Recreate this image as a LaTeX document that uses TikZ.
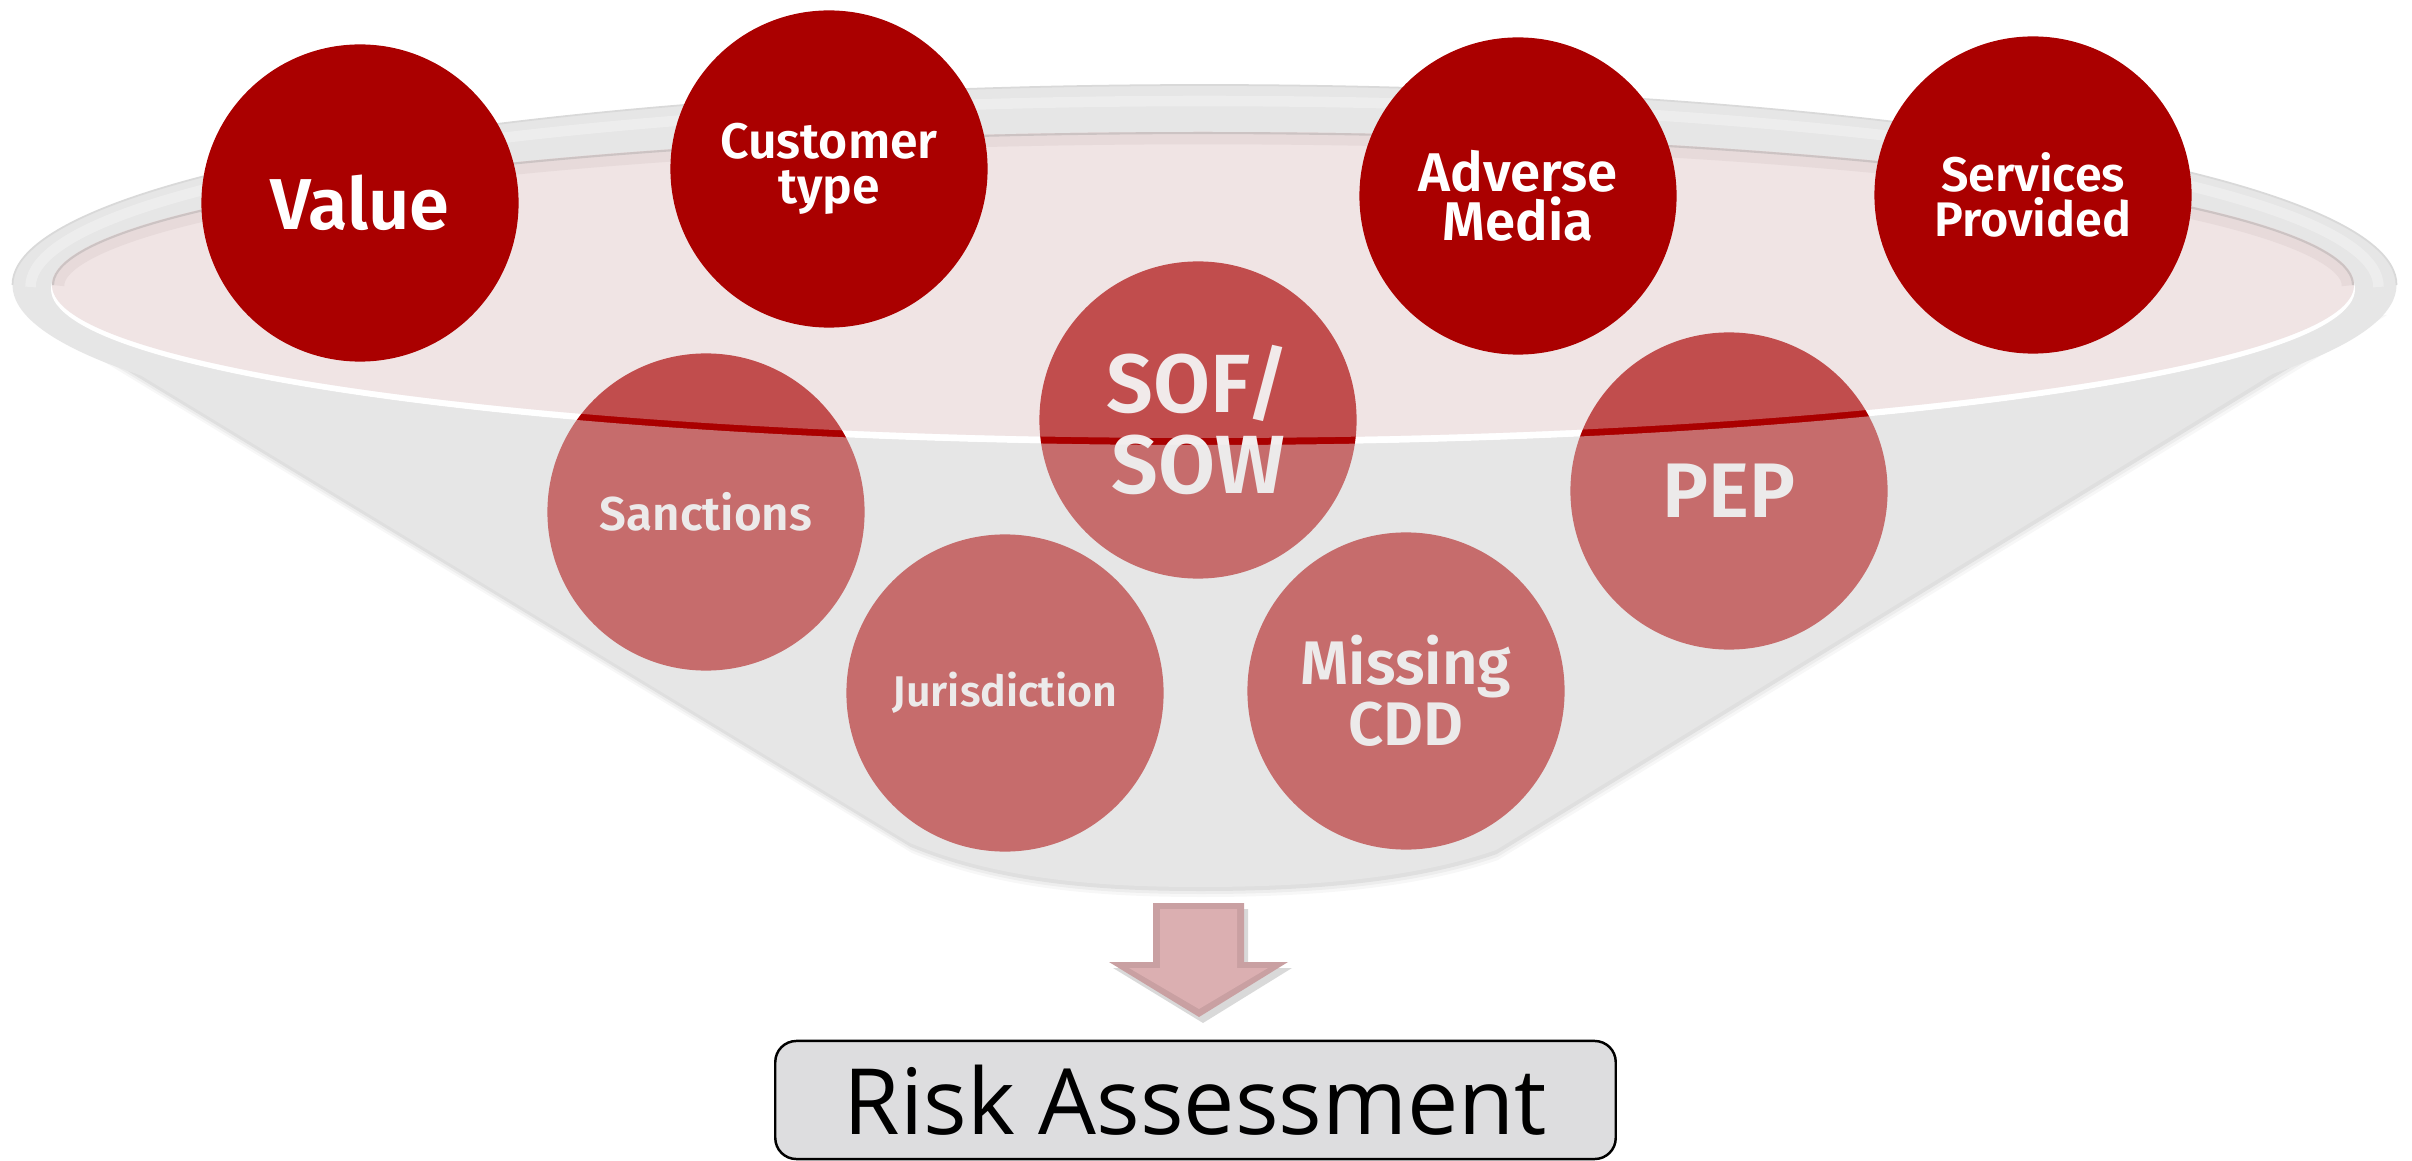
\documentclass[tikz,border=0pt]{standalone}
\usepackage{fontspec}
\setmainfont{Open Sans}
\newfontfamily\firafont[BoldFont={Fira Sans SemiBold}]{Fira Sans}
\definecolor{topred}{HTML}{AA0000}
\definecolor{pinkin}{HTML}{F0E4E4}
\definecolor{conegray}{HTML}{E6E6E6}
\definecolor{rimedge}{HTML}{D9D9D9}
\definecolor{shadowpink}{HTML}{E7DADA}
\definecolor{rimline}{HTML}{CCC3C3}
\definecolor{lowtext}{HTML}{F2EEEE}
\definecolor{arrowface}{HTML}{DBAFB1}
\definecolor{arrowedge}{HTML}{C9A0A2}
\definecolor{boxfill}{HTML}{DDDDDF}
\tikzset{
  ball/.style={circle, inner sep=0pt, minimum size=3.17cm, align=center},
  topball/.style={ball, fill=topred, text=white},
  lowball/.style={ball, fill=topred, text=lowtext},
  ft/.style 2 args={font={\firafont\bfseries\fontsize{#1}{#2}\selectfont}},
  riskbox/.style={draw=black, line width=0.7pt, rounded corners=6pt, fill=boxfill,
    minimum width=8.4cm, minimum height=1.18cm, inner sep=0pt,
    font={\fontsize{26}{30}\selectfont}}
}
\def\conepath{(25,305) -- (910,843) .. controls (1000,880) and (1100,887) .. (1200,887) .. controls (1300,887) and (1410,880) .. (1496,850) -- (2385,305) -- cycle}
\begin{document}
\begin{tikzpicture}[x=0.01cm,y=-0.01cm]
\useasboundingbox (0,0) rectangle (2412,1161);
\fill[white] (0,0) rectangle (2412,1161);

% soft shadow of the funnel
\foreach \d/\o in {10/0.03,7/0.04,4/0.06}{
  \fill[black, opacity=\o, shift={(\d*0.2,\d)}] \conepath;
}
% funnel body and rim
\fill[conegray] \conepath;
\fill[conegray] (1204.5,285) ellipse[x radius=1192, y radius=200];
\draw[rimedge, line width=0.5pt] (12.5,285) arc[start angle=180, end angle=360, x radius=1192, y radius=200];
\draw[white, opacity=0.3, line width=3pt] (30.5,287) arc[start angle=180, end angle=360, x radius=1174, y radius=186];
% white front lip and pink opening
\fill[white] (1203,289) ellipse[x radius=1152, y radius=156];
\fill[pinkin] (1203,285) ellipse[x radius=1151, y radius=153];

% circles inside the funnel
\node[lowball, ft={13.5}{14}] (sanctions) at (706,512) {Sanctions};
\node[lowball, ft={12.2}{13}] (jurisdiction) at (1005,693) {Jurisdiction};
\node[lowball, ft={23.5}{23}] (sofsow) at (1198,420) {SOF/\\SOW};
\node[lowball, ft={17.5}{15.5}] (missing) at (1406,691) {Missing\\CDD};
\node[lowball, ft={22}{22}] (pep) at (1729,491) {PEP};

% translucent funnel surfaces over the inner circles
\fill[pinkin, opacity=0.34] (1203,285) ellipse[x radius=1151, y radius=153];
\begin{scope}
  \clip \conepath;
  \fill[conegray, opacity=0.47, even odd rule] (0,0) rectangle (2412,1161)
    (1203,289) ellipse[x radius=1152, y radius=156];
\end{scope}
% inner shadow along the back of the opening
\begin{scope}
  \clip (1203,285) ellipse[x radius=1151, y radius=153];
  \draw[shadowpink, line width=7pt] (52,285) arc[start angle=180, end angle=360, x radius=1151, y radius=153];
  \draw[rimline, line width=1.2pt] (52,285) arc[start angle=180, end angle=360, x radius=1151, y radius=153];
\end{scope}

% circles above the funnel
\node[topball, ft={20.5}{20}] (value) at (360,203) {Value};
\node[topball, ft={14.2}{12.8}] (customer) at (829,169) {Customer\\type};
\node[topball, ft={15.5}{14}] (adverse) at (1518,196) {Adverse\\Media};
\node[topball, ft={13.8}{12.8}] (services) at (2033,195) {Services\\Provided};

% down arrow
\fill[black, opacity=0.15, shift={(4,6)}] (1153,903) -- (1244,903) -- (1244,962) -- (1288,962) -- (1199,1017) -- (1109,962) -- (1153,962) -- cycle;
\fill[arrowedge] (1153,903) -- (1244,903) -- (1244,962) -- (1288,962) -- (1199,1017) -- (1109,962) -- (1153,962) -- cycle;
\fill[arrowface] (1160,909) -- (1237,909) -- (1237,968) -- (1268,968) -- (1199,1009) -- (1129,968) -- (1160,968) -- cycle;
\coordinate (arrowtip) at (1199,1017);

% result box
\node[riskbox] (risk) at (1195.5,1100) {Risk Assessment};
\end{tikzpicture}
\end{document}
